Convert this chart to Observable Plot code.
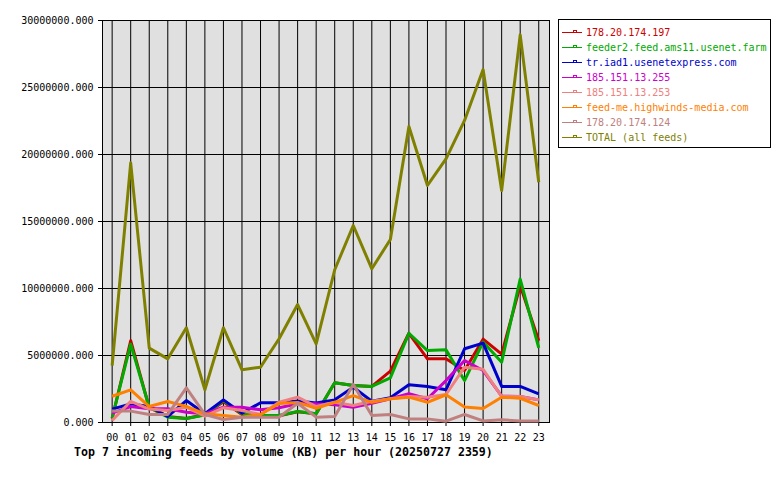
<!DOCTYPE html>
<html>
<head>
<meta charset="utf-8">
<script src="https://cdn.jsdelivr.net/npm/d3@7"></script>
<script src="https://cdn.jsdelivr.net/npm/@observablehq/plot@0.6"></script>
<style>
  html, body { margin: 0; padding: 0; background: #fff; }
  #wrap { position: relative; width: 780px; height: 480px; }
  #title { position: absolute; left: 74px; top: 445px; font: bold 11.6px "DejaVu Sans Mono", monospace; color: #000; white-space: pre; line-height: 14px; }
  #legend { position: absolute; left: 558px; top: 19px; width: 213px; height: 129px; border: 1px solid #000; background: #fff; box-sizing: border-box; padding: 5px 0 0 3px; }
  .row { height: 15px; line-height: 15px; font: 10px "DejaVu Sans Mono", monospace; white-space: pre; display: flex; align-items: center; }
  .row svg { margin-right: 4px; flex: none; }
</style>
</head>
<body>
<div id="wrap">
  <div id="chart"></div>
  <div id="legend"></div>
  <div id="title">Top 7 incoming feeds by volume (KB) per hour (20250727 2359)</div>
</div>
<script>
// Hour labels (x categories)
const hours = ["00","01","02","03","04","05","06","07","08","09","10","11","12","13","14","15","16","17","18","19","20","21","22","23"];

// Series names and colours
const seriesNames = ["178.20.174.197","feeder2.feed.ams11.usenet.farm","tr.iad1.usenetexpress.com","185.151.13.255","185.151.13.253","feed-me.highwinds-media.com","178.20.174.124","TOTAL (all feeds)"];
const seriesColors = ["#cc0000","#00aa00","#0000cc","#cc00cc","#f08080","#ff8000","#c08080","#808000"];

// Values (KB per hour)
const s178_20_174_197 = [300000,6100000,1100000,450000,300000,600000,1550000,600000,500000,500000,800000,650000,2960000,2760000,2690000,3830000,6660000,4750000,4750000,3880000,6220000,5100000,10220000,6100000];
const sFeeder2 = [350000,5850000,1140000,400000,300000,550000,1640000,650000,520000,520000,820000,650000,2960000,2760000,2690000,3330000,6660000,5370000,5420000,3130000,6000000,4500000,10700000,5570000];
const sTrIad1 = [1000000,1390000,1200000,450000,1640000,650000,1690000,700000,1470000,1470000,1600000,1450000,1690000,2640000,1590000,1840000,2810000,2690000,2440000,5500000,5920000,2690000,2690000,2140000];
const s185_151_13_255 = [700000,1190000,1020000,1020000,770000,650000,1140000,1140000,950000,1100000,1390000,1390000,1320000,1140000,1440000,1770000,2140000,1770000,3130000,4630000,3880000,1970000,1940000,1690000];
const s185_151_13_253 = [150000,1580000,1000000,900000,1140000,470000,1100000,900000,600000,1510000,1890000,1190000,1510000,1270000,1590000,1770000,1940000,1890000,2090000,4130000,3970000,1940000,1940000,1690000];
const sHighwinds = [1960000,2440000,1190000,1570000,1200000,650000,520000,400000,600000,1420000,1500000,1050000,1500000,2000000,1500000,1770000,1890000,1510000,2070000,1150000,1050000,1890000,1810000,1270000];
const s178_20_174_124 = [850000,850000,600000,600000,2590000,600000,220000,400000,400000,400000,1440000,400000,450000,2840000,520000,600000,270000,270000,100000,600000,120000,200000,120000,120000];
const sTotal = [4250000,19380000,5550000,4750000,7070000,2440000,7070000,3930000,4130000,6250000,8800000,5870000,11400000,14700000,11470000,13660000,22090000,17690000,19680000,22540000,26340000,17310000,28930000,17930000];

// Y tick values
const yTicks = [0,5000000,10000000,15000000,20000000,25000000,30000000];

const seriesValues = [s178_20_174_197,sFeeder2,sTrIad1,s185_151_13_255,s185_151_13_253,sHighwinds,s178_20_174_124,sTotal];
const idx = hours.map((h, i) => i);

const lineMarks = seriesValues.map((vals, k) =>
  Plot.line(vals.map((v, i) => ({hour: i, value: v})), {
    x: "hour", y: "value", stroke: seriesColors[k], strokeWidth: 3, strokeLinejoin: "round", strokeLinecap: "butt"
  })
);

const chart = Plot.plot({
  width: 780,
  height: 480,
  marginLeft: 102,
  marginRight: 231,
  marginTop: 20,
  marginBottom: 58,
  style: {fontFamily: "'DejaVu Sans Mono', monospace", fontSize: "10px", color: "#000", background: "#fff", overflow: "visible"},
  x: {domain: [-0.52, 23.58], label: null},
  y: {domain: [0, 30000000], label: null},
  marks: [
    Plot.frame({fill: "#e0e0e0", stroke: null}),
    Plot.gridX(idx, {stroke: "#000", strokeOpacity: 1, strokeWidth: 1}),
    Plot.gridY(yTicks, {stroke: "#000", strokeOpacity: 1, strokeWidth: 1}),
    Plot.frame({stroke: "#000", strokeWidth: 1}),
    Plot.axisX(idx, {tickFormat: i => hours[i], tickSize: 4, tickPadding: 7, fill: "#000", stroke: "#000"}),
    Plot.axisY(yTicks, {tickFormat: d => d.toFixed(3), tickSize: 4, tickPadding: 5, fill: "#000", stroke: "#000"}),
    ...lineMarks
  ]
});
document.getElementById("chart").appendChild(chart);

// Legend
const legend = document.getElementById("legend");
seriesNames.forEach((name, k) => {
  const row = document.createElement("div");
  row.className = "row";
  row.style.color = seriesColors[k];
  const c = seriesColors[k];
  row.innerHTML = `<svg width="20" height="15"><line x1="0" x2="20" y1="7.5" y2="7.5" stroke="${c}" stroke-width="1"/><rect x="11.5" y="5.5" width="3" height="2" fill="none" stroke="${c}" stroke-width="1"/></svg>`;
  const span = document.createElement("span");
  span.textContent = name;
  row.appendChild(span);
  legend.appendChild(row);
});
</script>
</body>
</html>
